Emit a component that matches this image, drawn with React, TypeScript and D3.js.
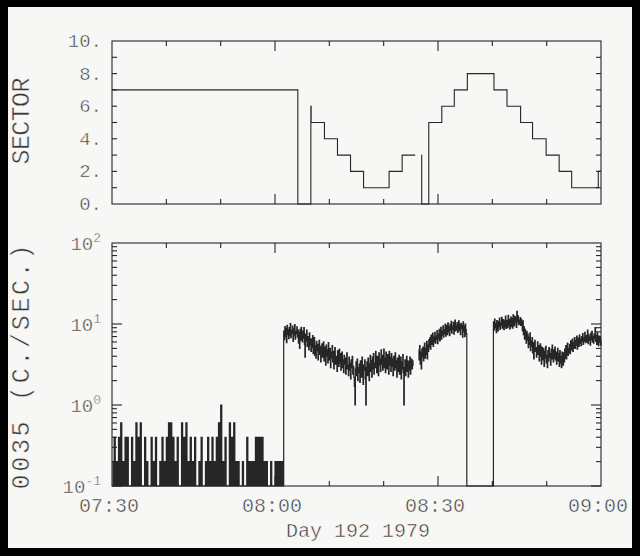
import * as d3 from "d3";

// time axis: minutes after 07:30, day 192 1979
const xTickMinutes = [0, 30, 60, 90];
const xTickLabels = ["07:30", "08:00", "08:30", "09:00"];
const sectorTickValues = [0, 2, 4, 6, 8, 10];
const sectorTickLabels = ["0.", "2.", "4.", "6.", "8.", "10."];
const rateDecades = [-1, 0, 1, 2];

// sector number, stepped (null = no data)
const sectorTimes = [0, 34.2, 36.6, 36.65, 39.1, 41.5, 43.9, 46.3, 51.0, 53.4, 55.8, 55.85, 56.95, 57.0, 58.3, 60.7, 63.0, 65.4, 70.3, 72.7, 75.2, 77.4, 79.9, 82.3, 84.6, 89.5, 90];
const sectorValues = [7, 0, 6, 5, 4, 3, 2, 1, 2, 3, 3, null, 3, 0, 5, 6, 7, 8, 7, 6, 5, 4, 3, 2, 1, 2, 2];

// background counts before 08:01, one sample every 0.2 min
const lowStep = 0.2;
const lowRate = [
  0.2, 0, 0.4, 0, 0.2, 0, 0.4, 0, 0.6, 0,
  0.2, 0, 0.4, 0, 0.4, 0, 0, 0, 0.4, 0,
  0.2, 0, 0.6, 0, 0.4, 0, 0.6, 0, 0, 0,
  0.4, 0, 0.2, 0, 0, 0, 0.4, 0, 0.2, 0,
  0.4, 0, 0, 0, 0.2, 0, 0.4, 0, 0.2, 0,
  0.4, 0, 0.6, 0, 0.6, 0, 0.4, 0, 0.2, 0,
  0.4, 0, 0, 0, 0.6, 0, 0.4, 0, 0.6, 0,
  0.2, 0, 0.4, 0, 0.2, 0, 0.4, 0, 0, 0,
  0.2, 0, 0.4, 0, 0, 0, 0.2, 0, 0.4, 0,
  0.2, 0, 0.4, 0, 0.2, 0, 0.4, 0, 0.6, 0,
  1.0, 0, 0.2, 0, 0.4, 0, 0, 0, 0.6, 0,
  0.4, 0, 0.6, 0, 0.2, 0, 0.2, 0, 0, 0,
  0.2, 0, 0, 0, 0.4, 0, 0.2, 0, 0.2, 0,
  0.2, 0, 0.4, 0, 0.4, 0, 0.4, 0, 0.4, 0,
  0.2, 0, 0.2, 0, 0, 0, 0.2, 0, 0, 0,
  0.2, 0, 0.2, 0, 0.2, 0, 0.2, 0,
];

// count rate (c./sec.), one sample every 0.1 min, one row per minute
const rateStep = 0.1;
const rateA = [
  8.2, 6.4, 9.3, 7.0, 8.8, 5.9, 9.6, 7.4, 8.5, 6.6,
  9.0, 7.2, 10.1, 6.8, 8.3, 7.7, 9.4, 6.1, 8.7, 7.3,
  9.8, 6.5, 8.1, 7.6, 9.2, 6.9, 8.4, 5.8, 7.9, 5.0,
  8.6, 6.3, 9.1, 7.1, 6.0, 8.2, 6.7, 9.0, 5.6, 3.9,
  7.5, 6.2, 8.4, 5.3, 7.0, 6.1, 4.8, 7.8, 5.5, 6.6,
  4.6, 6.4, 5.1, 7.2, 4.3, 5.9, 6.8, 4.1, 5.4, 3.8,
  6.1, 4.7, 5.6, 3.6, 5.0, 6.3, 4.2, 5.3, 3.4, 4.9,
  5.7, 3.9, 4.6, 6.0, 3.5, 5.2, 4.4, 3.1, 5.5, 4.0,
  4.8, 3.3, 5.9, 4.1, 3.6, 5.0, 2.9, 4.5, 3.8, 5.4,
  3.4, 4.6, 2.8, 4.2, 5.1, 3.2, 4.0, 3.5, 2.6, 4.7,
  3.9, 3.0, 4.9, 3.3, 4.3, 2.7, 3.7, 4.5, 2.9, 3.6,
  2.5, 4.1, 3.2, 3.8, 2.4, 3.5, 4.4, 2.8, 3.1, 2.3,
  3.9, 2.7, 3.3, 2.1, 3.6, 2.9, 4.0, 2.4, 3.0, 2.2,
  1.7, 1.0, 2.8, 3.4, 2.3, 3.7, 2.0, 2.9, 2.5, 3.2,
  1.9, 3.5, 2.6, 2.2, 3.9, 2.4, 1.8, 3.1, 2.7, 3.6,
  2.1, 1.0, 2.9, 3.4, 2.3, 3.8, 2.5, 2.0, 3.2, 4.1,
  2.6, 3.5, 2.2, 3.9, 2.8, 4.3, 2.4, 3.3, 2.9, 4.6,
  3.0, 2.5, 4.0, 3.4, 2.3, 4.4, 3.1, 3.7, 2.6, 4.8,
  3.2, 4.1, 2.7, 3.6, 4.9, 2.9, 3.8, 2.5, 4.5, 3.3,
  2.8, 4.2, 3.5, 2.4, 4.6, 3.1, 3.9, 2.6, 4.3, 3.0,
  3.7, 2.3, 4.0, 3.2, 2.7, 4.4, 2.9, 3.5, 2.2, 3.8,
  2.6, 3.3, 4.1, 2.4, 3.0, 3.9, 2.1, 3.4, 2.8, 4.2,
  2.5, 1.0, 2.9, 3.6, 2.3, 3.2, 4.0, 2.6, 3.5, 2.2,
  3.4, 2.7, 3.9, 2.4, 3.1, 3.7, 2.8, 3.5, 3.0,
];
const rateB = [
  4.8, 3.6, 5.4, 3.2, 4.5, 2.8, 4.9, 3.9, 5.2, 3.5,
  4.4, 5.8, 3.8, 5.0, 4.2, 6.1, 3.7, 5.5, 4.6, 6.4,
  5.2, 6.8, 4.9, 7.3, 5.6, 6.2, 7.7, 5.3, 6.9, 6.0,
  7.9, 5.8, 7.1, 6.4, 8.3, 5.7, 7.5, 6.6, 8.6, 6.2,
  7.8, 9.1, 6.5, 8.2, 7.3, 9.5, 6.9, 8.5, 7.6, 10.0,
  7.1, 8.8, 9.6, 7.4, 10.3, 8.0, 9.2, 7.2, 9.9, 8.4,
  10.8, 7.7, 9.4, 8.6, 10.5, 7.5, 9.0, 11.2, 8.2, 9.7,
  8.5, 10.4, 7.9, 9.3, 10.9, 8.3, 9.8, 7.4, 10.2, 8.8,
  9.6, 6.9, 10.6, 8.1, 9.4, 7.0, 10.0, 8.6, 7.6,
];
const rateC = [
  10.6, 8.4, 11.5, 9.0, 10.1, 7.8, 11.0, 9.4, 8.2, 10.8,
  9.3, 11.8, 8.6, 10.4, 9.7, 12.1, 8.9, 10.0, 11.3, 8.5,
  10.9, 9.2, 12.5, 8.8, 11.1, 10.2, 9.0, 12.8, 9.6, 11.4,
  8.7, 10.6, 12.2, 9.3, 11.7, 8.9, 13.0, 10.1, 9.5, 12.4,
  10.3, 11.9, 9.1, 14.3, 10.7, 12.6, 9.8, 11.2, 10.0, 12.0,
  9.6, 11.5, 10.4, 8.3, 10.9, 7.4, 9.2, 6.5, 8.6, 7.0,
  5.8, 8.1, 6.3, 7.5, 5.1, 6.9, 5.6, 7.8, 4.7, 6.2,
  5.3, 6.8, 4.4, 5.9, 3.7, 5.5, 6.3, 4.6, 5.1, 3.9,
  4.9, 6.0, 4.2, 5.4, 3.5, 4.8, 5.7, 4.0, 3.2, 5.2,
  4.4, 3.6, 5.0, 3.0, 4.6, 3.8, 5.3, 3.3, 4.1, 2.9,
  4.7, 3.5, 5.1, 3.9, 4.3, 3.1, 4.9, 3.7, 5.5, 4.0,
  3.4, 4.8, 3.8, 5.2, 3.6, 4.5, 3.2, 4.1, 5.0, 3.5,
  4.3, 3.0, 4.7, 3.3, 4.0, 2.9, 4.5, 3.6, 3.1, 4.4,
  3.4, 4.9, 3.8, 5.4, 3.7, 4.6, 5.8, 4.1, 5.0, 4.4,
  5.6, 4.3, 6.2, 4.8, 5.3, 6.5, 4.6, 5.9, 5.1, 6.8,
  5.0, 6.3, 5.5, 7.1, 4.9, 6.0, 6.7, 5.3, 7.3, 5.8,
  6.5, 5.4, 7.0, 6.1, 7.6, 5.6, 6.8, 6.2, 7.9, 5.9,
  7.2, 6.0, 6.6, 8.4, 5.7, 7.4, 6.3, 6.9, 5.5, 7.7,
  6.4, 8.1, 6.0, 7.0, 5.8, 7.5, 6.6, 9.0, 6.1, 7.2,
  5.6, 7.8, 6.5, 5.4, 7.1, 6.0, 6.8, 5.5, 6.3,
];
// minutes where each piece starts; gap = data break, off = drop to zero
const segmentStarts = { low: 0, a: 31.6, gap: 55.5, b: 56.4, off: 65.3, c: 70.2 };

type Pt = { t: number; v: number | null };

const toPts = (vals: number[], start: number, step: number): Pt[] =>
  vals.map((v, i) => ({ t: start + i * step, v }));

const ink = "#262626";
const paper = "#f7f7f5";
const font = "'Liberation Mono', 'DejaVu Sans Mono', monospace";

const App = () => {
  const left = 112;
  const right = 601;
  const x = d3.scaleLinear().domain([0, 90]).range([left, right]);
  const ySec = d3.scaleLinear().domain([0, 10]).range([204, 41]);
  const yRate = d3.scaleLog().domain([0.1, 100]).range([486, 243]).clamp(true);

  const sectorPts: Pt[] = sectorTimes.map((t, i) => ({ t, v: sectorValues[i] }));
  const ratePts: Pt[] = [
    ...toPts(lowRate, segmentStarts.low, lowStep),
    ...toPts(rateA, segmentStarts.a, rateStep),
    { t: segmentStarts.gap, v: null },
    ...toPts(rateB, segmentStarts.b, rateStep),
    { t: segmentStarts.off, v: 0 },
    ...toPts(rateC, segmentStarts.c, rateStep),
  ];

  const secLine = d3
    .line<Pt>()
    .defined((d) => d.v !== null)
    .x((d) => x(d.t))
    .y((d) => ySec(d.v as number))
    .curve(d3.curveStepAfter);
  const rateLine = d3
    .line<Pt>()
    .defined((d) => d.v !== null)
    .x((d) => x(d.t))
    .y((d) => yRate(Math.max(d.v as number, 0.1)))
    .curve(d3.curveStepAfter);

  const tenMin = d3.range(10, 90, 10);
  const secUnits = d3.range(1, 10);
  const logTicks: { v: number; major: boolean }[] = [];
  for (let e = -1; e < 2; e++) {
    for (let m = 1; m < 10; m++) logTicks.push({ v: m * 10 ** e, major: m === 1 });
  }

  const xTicks = (y0: number, y1: number) =>
    tenMin.map((t) => {
      const len = t % 30 === 0 ? 10 : 5;
      return (
        <g key={`${y0}-${t}`}>
          <line x1={x(t)} x2={x(t)} y1={y0} y2={y0 + len} />
          <line x1={x(t)} x2={x(t)} y1={y1} y2={y1 - len} />
        </g>
      );
    });

  return (
    <svg
      width={640}
      height={556}
      style={{ position: "fixed", left: 0, top: 0 }}
      fontFamily={font}
    >
      <rect width={640} height={556} fill="#000" />
      <rect x={8} y={7} width={624} height={541} fill={paper} />

      <g stroke={ink} strokeWidth={1.1} fill="none">
        {/* sector panel frame and ticks */}
        <rect x={left} y={41} width={right - left} height={163} />
        {xTicks(41, 204)}
        {secUnits.map((u) => (
          <g key={`su${u}`}>
            <line x1={left} x2={left + 5} y1={ySec(u)} y2={ySec(u)} />
            <line x1={right} x2={right - 5} y1={ySec(u)} y2={ySec(u)} />
          </g>
        ))}

        {/* rate panel frame and ticks */}
        <rect x={left} y={243} width={right - left} height={243} />
        {xTicks(243, 486)}
        {logTicks.map(({ v, major }) => (
          <g key={`lt${v}`}>
            <line x1={left} x2={left + (major ? 10 : 5)} y1={yRate(v)} y2={yRate(v)} />
            <line x1={right} x2={right - (major ? 10 : 5)} y1={yRate(v)} y2={yRate(v)} />
          </g>
        ))}

        <path d={secLine(sectorPts) ?? undefined} strokeWidth={1.1} />
        <path d={rateLine(ratePts) ?? undefined} strokeWidth={1.2} />
      </g>

      <g fill="#383838" fontSize={19} stroke={paper} strokeWidth={0.5}>
        {sectorTickValues.map((v, i) => (
          <text key={`sl${v}`} x={102} y={ySec(v) + 6} textAnchor="end">
            {sectorTickLabels[i]}
          </text>
        ))}
        {rateDecades.map((e) => (
          <text key={`rl${e}`} x={101} y={yRate(10 ** e) + 7} textAnchor="end">
            <tspan>10</tspan>
            <tspan dy={-8} fontSize={13}>
              {e}
            </tspan>
          </text>
        ))}
        {xTickMinutes.map((t, i) => (
          <text key={`xl${t}`} x={x(t) - 3} y={512} textAnchor="middle" fontSize={20}>
            {xTickLabels[i]}
          </text>
        ))}
        <text x={358} y={537} textAnchor="middle" fontSize={20}>
          Day 192 1979
        </text>
        <text
          transform="translate(29,121) rotate(-90)"
          textAnchor="middle"
          fontSize={25}
          textLength={87}
          lengthAdjust="spacing"
        >
          SECTOR
        </text>
        <text
          transform="translate(29,367) rotate(-90)"
          textAnchor="middle"
          fontSize={25}
          textLength={245}
          lengthAdjust="spacing"
        >
          0035 (C./SEC.)
        </text>
      </g>
    </svg>
  );
};

export default App;
